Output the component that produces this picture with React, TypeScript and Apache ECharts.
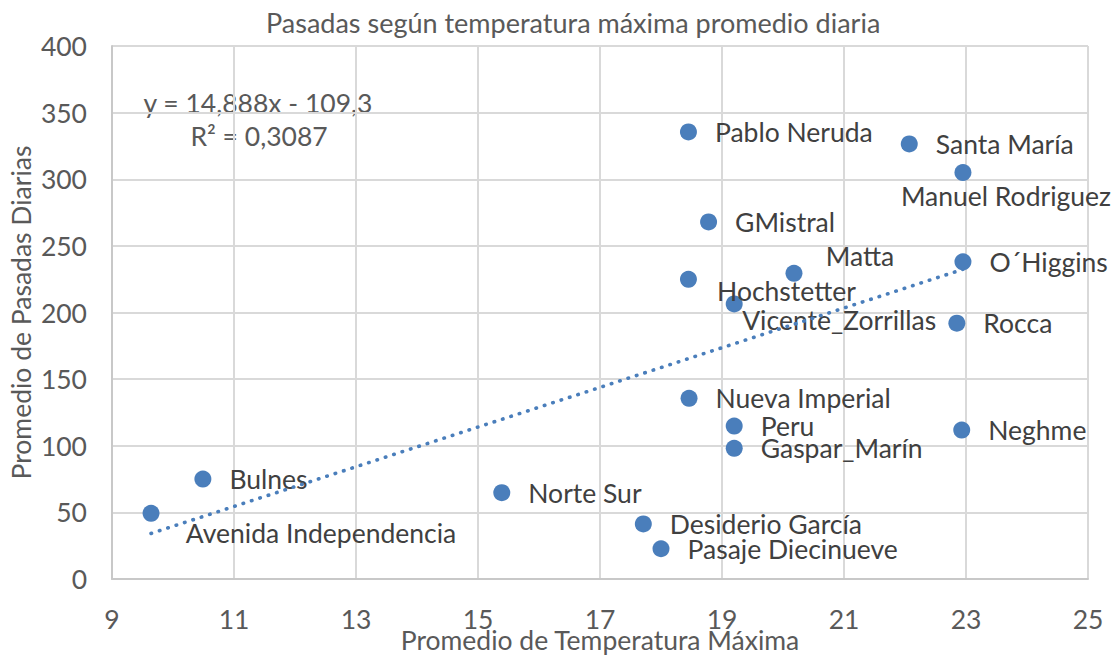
import React, { useEffect, useRef } from "react";
import * as echarts from "echarts";

const stations = [
  "Avenida Independencia",
  "Bulnes",
  "Norte Sur",
  "Desiderio García",
  "Pasaje Diecinueve",
  "Pablo Neruda",
  "Hochstetter",
  "Nueva Imperial",
  "GMistral",
  "Vicente_Zorrillas",
  "Peru",
  "Gaspar_Marín",
  "Matta",
  "Santa María",
  "Manuel Rodriguez",
  "O´Higgins",
  "Rocca",
  "Neghme",
];
const tempMax = [9.64, 10.49, 15.39, 17.71, 18.0, 18.45, 18.45, 18.46, 18.78, 19.2, 19.2, 19.2, 20.18, 22.07, 22.95, 22.95, 22.85, 22.93];
const passes = [49.3, 75, 64.8, 41.3, 22.7, 335.5, 224.9, 135.6, 268, 206.4, 114.8, 98.1, 229.4, 326.5, 305, 238, 192, 111.8];

const xTicks = [9, 11, 13, 15, 17, 19, 21, 23, 25];
const trendTemp = [9.64, 22.95];
const trendPasses = [34.2, 232.4];
const equationText = "y = 14,888x - 109,3";
const r2Text = "R² = 0,3087";
const titleText = "Pasadas según temperatura máxima promedio diaria";
const xName = "Promedio de Temperatura Máxima";
const yName = "Promedio de Pasadas Diarias";

export default function App() {
  const ref = useRef<HTMLDivElement>(null);
  useEffect(() => {
    document.body.style.margin = "0";
    const chart = echarts.init(ref.current!, null, { renderer: "svg" });
    const FONT = "Lato";
    const FS = 26.5;
    const BLUE = "#4a7ebb";
    const special: Record<string, [number, number]> = {
      "Avenida Independencia": [170, 20],
      "Manuel Rodriguez": [43, 23],
      Matta: [66, -17],
      Hochstetter: [98, 12],
      Vicente_Zorrillas: [105, 16],
    };
    const scatterData = stations.map((name, i) => {
      const off = special[name];
      return {
        name,
        value: [tempMax[i], passes[i]],
        label: off ? { position: "inside", offset: off } : undefined,
      };
    });
    const trendData = trendTemp.map((t, i) => [t, trendPasses[i]]);

    chart.setOption({
      animation: false,
      backgroundColor: "#ffffff",
      textStyle: { fontFamily: FONT },
      title: {
        text: titleText,
        left: 266,
        top: 8,
        padding: 0,
        textStyle: { fontFamily: FONT, fontSize: 27, fontWeight: "normal", color: "#595959", lineHeight: 28 },
      },
      grid: { left: 112, right: 27, top: 46, bottom: 76, containLabel: false, outerBoundsMode: "none" },
      xAxis: {
        type: "value",
        min: 9,
        max: 25,
        interval: 2,
        name: xName,
        nameLocation: "middle",
        nameGap: 47,
        nameMoveOverlap: false,
        nameTextStyle: { fontFamily: FONT, fontSize: FS, color: "#595959" },
        axisLine: { show: true, lineStyle: { color: "#c8c8c8", width: 2 } },
        axisTick: { show: false, customValues: xTicks },
        axisLabel: { customValues: xTicks, margin: 26, fontFamily: FONT, fontSize: FS, color: "#595959" },
        splitLine: { show: true, customValues: xTicks, lineStyle: { color: "#d9d9d9", width: 2 } },
      },
      yAxis: {
        type: "value",
        min: 0,
        max: 400,
        interval: 50,
        name: yName,
        nameLocation: "middle",
        nameGap: 78,
        nameMoveOverlap: false,
        nameTextStyle: { fontFamily: FONT, fontSize: FS, color: "#595959" },
        axisLine: { show: true, lineStyle: { color: "#c8c8c8", width: 2 } },
        axisTick: { show: false },
        axisLabel: { margin: 25, fontFamily: FONT, fontSize: FS, color: "#595959" },
        splitLine: { show: true, lineStyle: { color: "#d9d9d9", width: 2 } },
      },
      graphic: [
        {
          type: "text",
          x: 258,
          y: 103,
          style: { text: equationText, fontFamily: FONT, fontSize: FS, fill: "#595959", textAlign: "center", textVerticalAlign: "middle" },
        },
        {
          type: "text",
          x: 259,
          y: 136,
          style: { text: r2Text, fontFamily: FONT, fontSize: FS, fill: "#595959", textAlign: "center", textVerticalAlign: "middle" },
        },
      ],
      series: [
        {
          type: "line",
          data: trendData,
          symbol: "none",
          silent: true,
          z: 3,
          lineStyle: { color: BLUE, width: 3.6, type: [0.5, 8.3], cap: "round" },
        },
        {
          type: "scatter",
          data: scatterData,
          symbolSize: 17,
          z: 2,
          itemStyle: { color: BLUE, opacity: 1 },
          label: {
            show: true,
            formatter: "{b}",
            position: "right",
            distance: 18,
            fontFamily: FONT,
            fontSize: FS,
            color: "#404040",
          },
        },
      ],
    });
    return () => chart.dispose();
  }, []);
  return <div ref={ref} style={{ width: 1115, height: 655 }} />;
}
